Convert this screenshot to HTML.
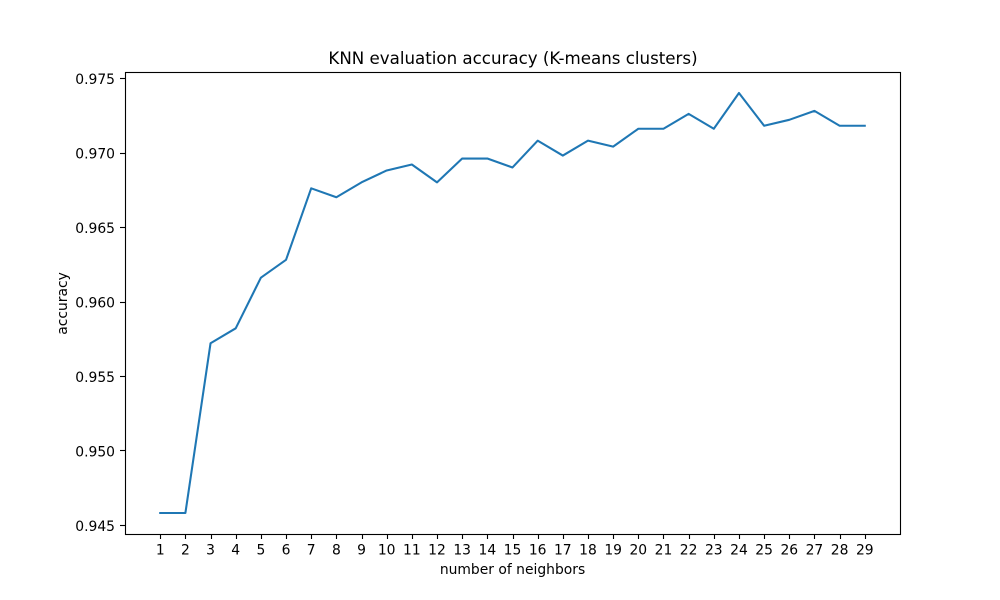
<!DOCTYPE html>
<html>
<head>
<meta charset="utf-8">
<style>
html,body{margin:0;padding:0;background:#fff;}
svg{display:block;font-family:"DejaVu Sans",sans-serif;}
text{fill:#000;}
</style>
</head>
<body>
<svg id="chart" width="1000" height="600" viewBox="0 0 1000 600" xmlns="http://www.w3.org/2000/svg">
  <rect x="0" y="0" width="1000" height="600" fill="#fff"></rect>
  <g id="ticks"></g>
  <path id="line" fill="none" stroke="#1f77b4" stroke-width="2.08" stroke-linejoin="round" stroke-linecap="square"></path>
  <rect x="125.5" y="72.5" width="775" height="462" fill="none" stroke="#000" stroke-width="1.11"></rect>
  <text x="513" y="64" font-size="16.67" text-anchor="middle">KNN evaluation accuracy (K-means clusters)</text>
  <text x="512.5" y="574" font-size="13.89" text-anchor="middle">number of neighbors</text>
  <text x="0" y="0" font-size="13.89" text-anchor="middle" transform="translate(67 303.5) rotate(-90)">accuracy</text>
</svg>
<script>
const neighbors = [1,2,3,4,5,6,7,8,9,10,11,12,13,14,15,16,17,18,19,20,21,22,23,24,25,26,27,28,29];
const accuracy = [0.9458,0.9458,0.9572,0.9582,0.9616,0.9628,0.9676,0.967,0.968,0.9688,0.9692,0.968,0.9696,0.9696,0.969,0.9708,0.9698,0.9708,0.9704,0.9716,0.9716,0.9726,0.9716,0.974,0.9718,0.9722,0.9728,0.9718,0.9718];
const yTicks = [0.945,0.950,0.955,0.960,0.965,0.970,0.975];

const NS = 'http://www.w3.org/2000/svg';
const plot = {left:125, right:900, top:72, bottom:534};
const xMin = Math.min(...neighbors), xMax = Math.max(...neighbors);
const yMin = Math.min(...accuracy), yMax = Math.max(...accuracy);
const xPad = (xMax - xMin) * 0.05, yPad = (yMax - yMin) * 0.05;
function xScale(v){ return plot.left + (v - (xMin - xPad)) / ((xMax - xMin) + 2 * xPad) * (plot.right - plot.left); }
function yScale(v){ return plot.bottom - (v - (yMin - yPad)) / ((yMax - yMin) + 2 * yPad) * (plot.bottom - plot.top); }

const ticks = document.getElementById('ticks');
neighbors.forEach(function(n){
  const x = Math.round(xScale(n)) + 0.5;
  const t = document.createElementNS(NS,'line');
  t.setAttribute('x1', x);
  t.setAttribute('x2', x);
  t.setAttribute('y1', plot.bottom);
  t.setAttribute('y2', plot.bottom + 5);
  t.setAttribute('stroke', '#000');
  t.setAttribute('stroke-width', '1.11');
  
  
  ticks.appendChild(t);
  const l = document.createElementNS(NS,'text');
  l.setAttribute('x', xScale(n));
  l.setAttribute('y', plot.bottom + 20.5);
  l.setAttribute('font-size', '13.89');
  l.setAttribute('text-anchor', 'middle');
  
  
  l.textContent = n;
  ticks.appendChild(l);
});
yTicks.forEach(function(v){
  const y = Math.round(yScale(v)) + 0.5;
  const t = document.createElementNS(NS,'line');
  t.setAttribute('x1', plot.left - 5);
  t.setAttribute('x2', plot.left);
  t.setAttribute('y1', y);
  t.setAttribute('y2', y);
  t.setAttribute('stroke', '#000');
  t.setAttribute('stroke-width', '1.11');
  
  
  ticks.appendChild(t);
  const l = document.createElementNS(NS,'text');
  l.setAttribute('x', plot.left - 10);
  l.setAttribute('y', yScale(v) + 6);
  l.setAttribute('font-size', '13.89');
  l.setAttribute('text-anchor', 'end');
  
  
  l.textContent = v.toFixed(3);
  ticks.appendChild(l);
});
document.getElementById('line').setAttribute('d', neighbors.map(function(n,i){
  return (i ? 'L' : 'M') + xScale(n).toFixed(2) + ' ' + yScale(accuracy[i]).toFixed(2);
}).join(' '));
</script>
</body>
</html>
